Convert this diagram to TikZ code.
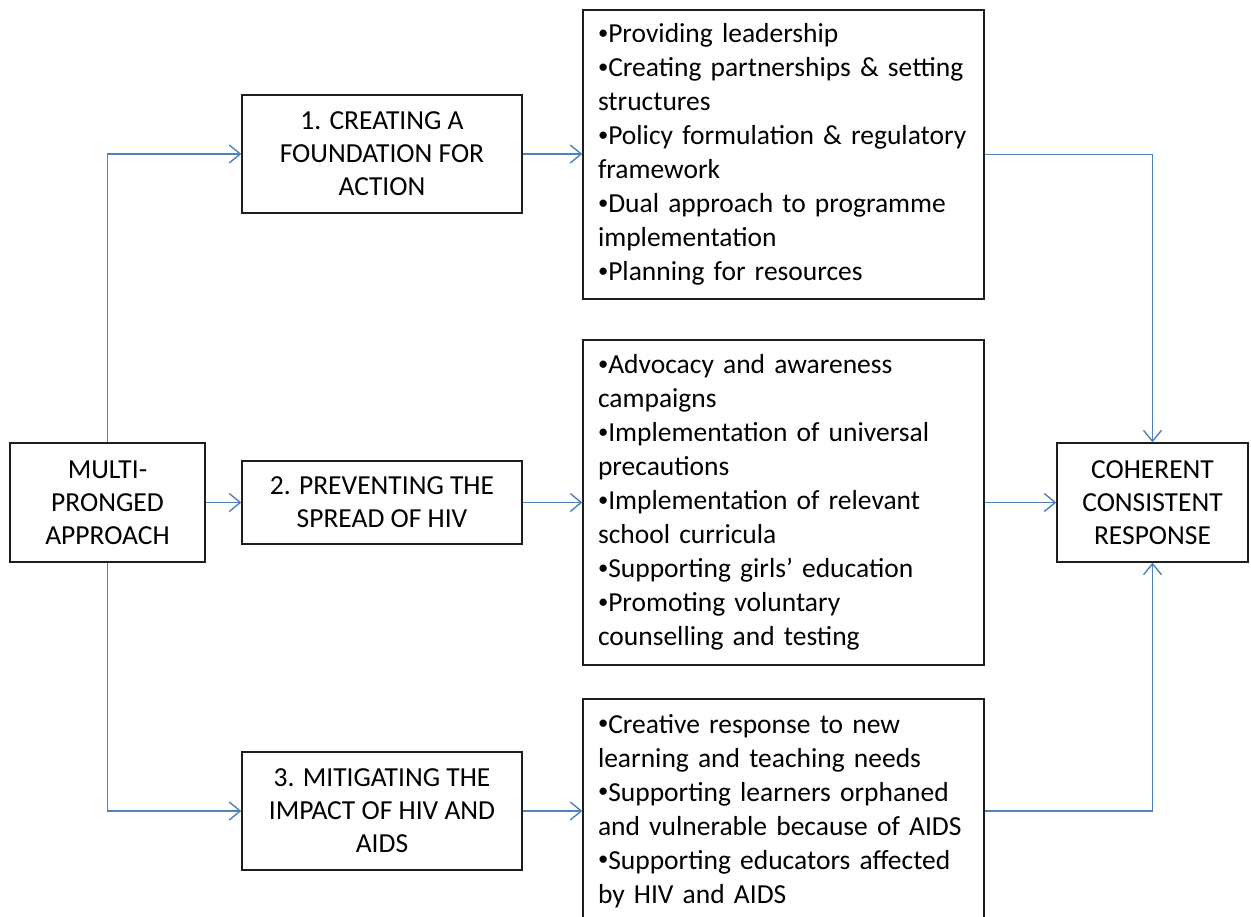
\documentclass[tikz,border=0pt]{standalone}
\usepackage{fontspec}
\setmainfont{Carlito}
\usetikzlibrary{arrows.meta}
\hyphenpenalty=10000
\exhyphenpenalty=10000
\definecolor{connblue}{RGB}{79,129,189}
\definecolor{boxline}{RGB}{30,30,30}
\newcommand{\bul}{\raisebox{0.12em}{\scalebox{0.75}{•}}}
\tikzset{
  boxnode/.style={draw=boxline, line width=1.3pt, align=center, inner sep=0pt,
    font=\fontsize{27.5}{33}\selectfont, text=black},
  listnode/.style={draw=boxline, line width=1.3pt, align=left, inner xsep=15pt, inner ysep=0pt,
    text width=371pt, font=\fontsize{27.5}{34}\selectfont, text=black},
  conn/.style={draw=connblue, line width=1.4pt,
    -{Straight Barb[length=11pt,width=18pt,line width=1.4pt]}}
}
\begin{document}
\begin{tikzpicture}[x=1pt,y=-1pt]
\useasboundingbox (0,0) rectangle (1251,917);
\clip (0,0) rectangle (1251,917);
\fill[white] (0,0) rectangle (1251,917);

\node[boxnode, minimum width=195pt, minimum height=119pt] (multi) at (107.5,502.5) {MULTI-\\PRONGED\\APPROACH};
\node[boxnode, minimum width=280pt, minimum height=118pt] (b1) at (382,154) {1. CREATING A\\FOUNDATION FOR\\ACTION};
\node[boxnode, minimum width=280pt, minimum height=83pt] (b2) at (382,502.5) {2. PREVENTING THE\\SPREAD OF HIV};
\node[boxnode, minimum width=280pt, minimum height=118pt] (b3) at (382,811) {3. MITIGATING THE\\IMPACT OF HIV AND\\AIDS};

\node[listnode, minimum height=289pt] (l1) at (783.5,154.5) {\bul Providing leadership\\\bul Creating partnerships \& setting\\structures\\\bul Policy formulation \& regulatory\\framework\\\bul Dual approach to programme\\implementation\\\bul Planning for resources};
\node[listnode, minimum height=325pt] (l2) at (783.5,502.5) {\bul Advocacy and awareness\\campaigns\\\bul Implementation of universal\\precautions\\\bul Implementation of relevant\\school curricula\\\bul Supporting girls’ education\\\bul Promoting voluntary\\counselling and testing};
\node[listnode, minimum height=224pt] (l3) at (783.5,811) {\bul Creative response to new\\learning and teaching needs\\\bul Supporting learners orphaned\\and vulnerable because of AIDS\\\bul Supporting educators affected\\by HIV and AIDS};

\node[boxnode, minimum width=191pt, minimum height=119pt] (coh) at (1152.5,502.5) {COHERENT\\CONSISTENT\\RESPONSE};

\draw[conn] (multi.north) |- (b1.west);
\draw[conn] (multi.east) -- (b2.west);
\draw[conn] (multi.south) |- (b3.west);
\draw[conn] (b1.east) -- (b1.east -| l1.west);
\draw[conn] (b2.east) -- (b2.east -| l2.west);
\draw[conn] (b3.east) -- (b3.east -| l3.west);
\draw[conn] (l1.east) -| (coh.north);
\draw[conn] (l2.east) -- (coh.west);
\draw[conn] (l3.east) -| (coh.south);
\end{tikzpicture}
\end{document}
